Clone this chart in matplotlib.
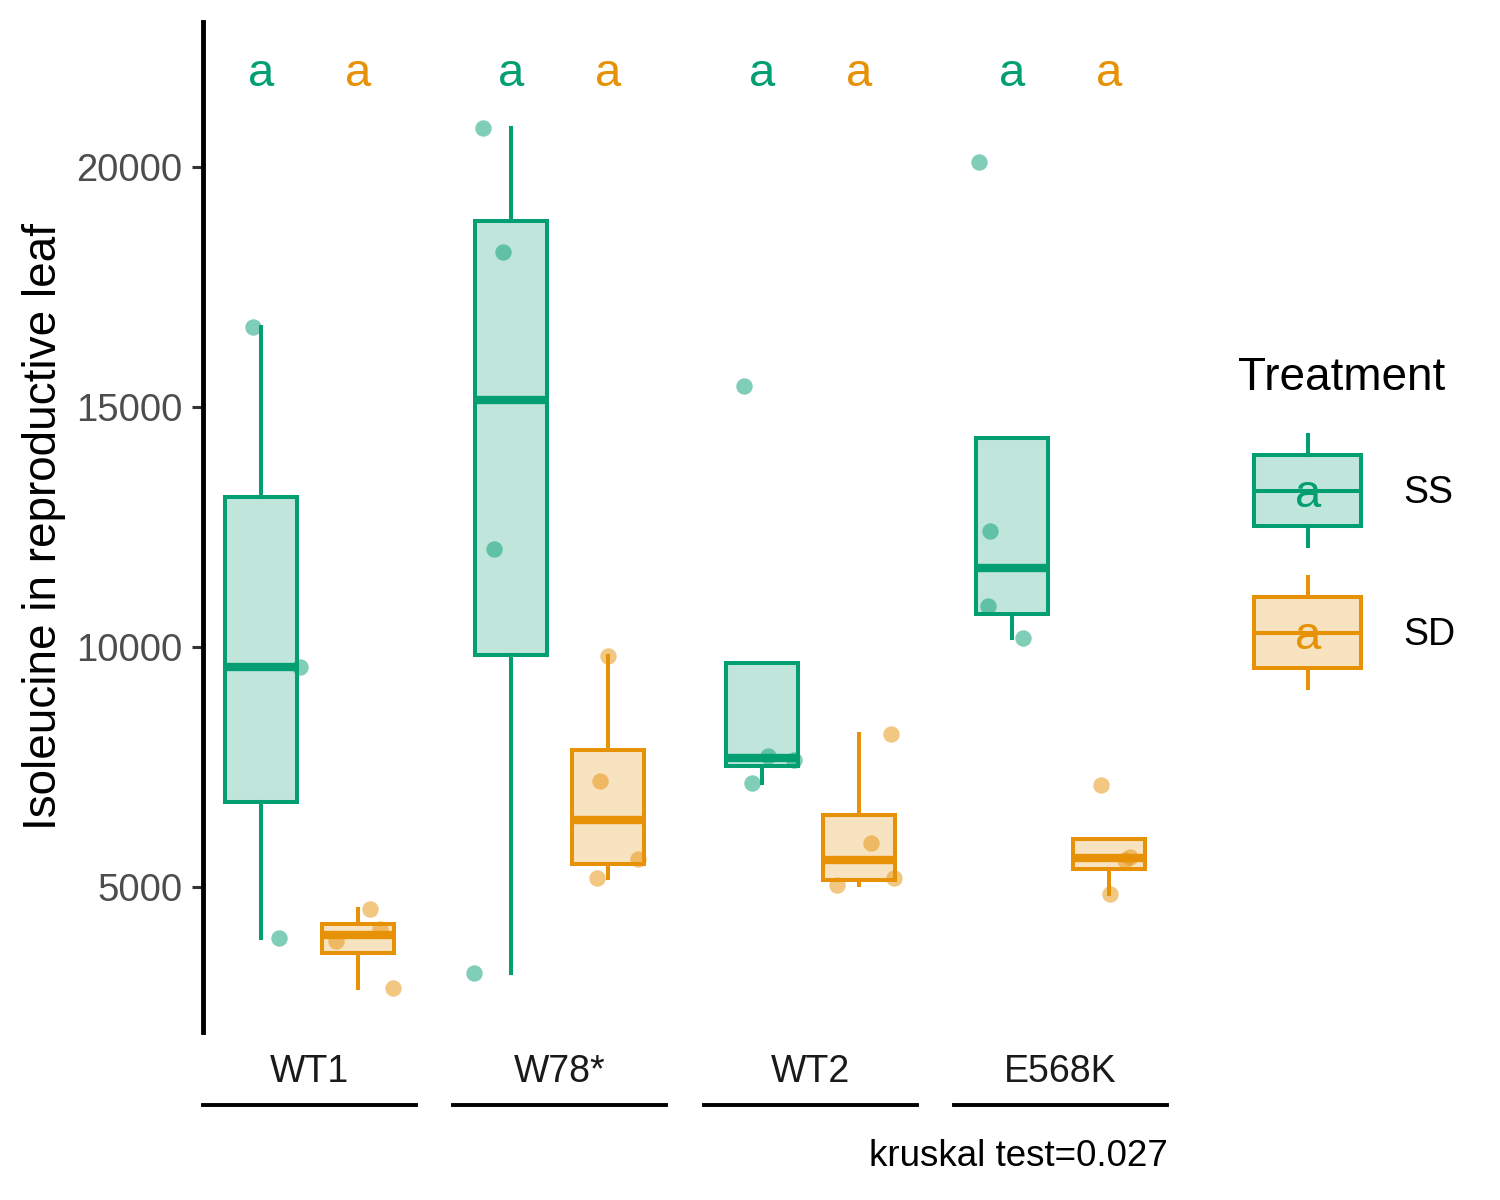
import matplotlib
matplotlib.use('Agg')
import matplotlib.pyplot as plt
from matplotlib.patches import Rectangle
from matplotlib.colors import to_rgba

plt.rcParams['font.family'] = ['Liberation Sans', 'DejaVu Sans']

# genotypes (one facet each) and treatments
genotypes = ['WT1', 'W78*', 'WT2', 'E568K']
treatments = ['SS', 'SD']
letters = ['a', 'a']

# isoleucine values, per genotype
ss_values = [[16667, 9590, 3948],
             [20812, 18229, 12042, 3219],
             [15444, 7735, 7646, 7173],
             [20110, 12423, 10854, 10194]]
sd_values = [[4542, 4125, 3875, 2896],
             [9812, 7208, 5577, 5194],
             [8194, 5923, 5194, 5042],
             [7131, 5631, 5563, 4854]]

# horizontal jitter of the points (x units), as seen in the picture
ss_jitter = [[-0.08, 0.40, 0.18],
             [-0.29, -0.08, -0.18, -0.38],
             [-0.19, 0.06, 0.33, -0.10],
             [-0.34, -0.23, -0.25, 0.11]]
sd_jitter = [[0.13, 0.23, -0.23, 0.36],
             [0.0, -0.08, 0.31, -0.11],
             [0.33, 0.13, 0.36, -0.23],
             [-0.08, 0.22, 0.17, 0.01]]

letter_y = 21690
yticks = [5000, 10000, 15000, 20000]
kruskal_p = 0.027

colors = {'SS': '#049E73', 'SD': '#E69106'}

W, H = 1500, 1200
fig = plt.figure(figsize=(15, 12), dpi=100)

panel_left = [203, 453, 704, 954]
panel_w = 213
panel_top, panel_bottom = 22, 1032
lw = 2.9

for i, g in enumerate(genotypes):
    ax = fig.add_axes([panel_left[i] / W, 1 - panel_bottom / H,
                       panel_w / W, (panel_bottom - panel_top) / H])
    for j, (tr, vals, jit) in enumerate(zip(treatments,
                                            [ss_values[i], sd_values[i]],
                                            [ss_jitter[i], sd_jitter[i]])):
        c = colors[tr]
        pos = j + 1
        ax.scatter([pos + d for d in jit], vals, s=140, color=c, alpha=0.5,
                   linewidths=0, zorder=2)
        ax.boxplot(vals, positions=[pos], widths=0.75, whis=1.5,
                   showfliers=False, showcaps=False, patch_artist=True,
                   boxprops=dict(facecolor=to_rgba(c, 0.25), edgecolor=c, linewidth=lw),
                   whiskerprops=dict(color=c, linewidth=lw),
                   medianprops=dict(color=c, linewidth=6, solid_capstyle='butt'),
                   zorder=3)
        ax.text(pos, letter_y, letters[j], color=c, fontsize=34,
                ha='center', va='baseline')

    ax.set_xlim(0.4, 2.6)
    ax.set_ylim(1980, 23020)
    ax.set_xticks([])
    ax.spines['top'].set_visible(False)
    ax.spines['right'].set_visible(False)
    ax.spines['bottom'].set_position(('outward', 52.5))
    ax.spines['bottom'].set_linewidth(2.8)
    ax.text(0.5, -0.0396, g, transform=ax.transAxes, ha='center', va='center',
            fontsize=27, color='#1A1A1A')
    if i == 0:
        ax.spines['left'].set_linewidth(3.5)
        ax.set_yticks(yticks)
        ax.set_yticklabels([str(t) for t in yticks])
        ax.tick_params(axis='y', length=8, width=2.2, color='#333333',
                       labelsize=27.5, labelcolor='#4D4D4D', pad=7)
        ax.set_ylabel('Isoleucine in reproductive leaf', fontsize=33, labelpad=7)
    else:
        ax.spines['left'].set_visible(False)
        ax.set_yticks([])

fig.text(1168 / W, 1 - 1157 / H, f'kruskal test={kruskal_p}', ha='right',
         va='center', fontsize=26.5)

# legend drawn in its own pixel-unit axes
lx0, lx1, ly0, ly1 = 1220, 1490, 330, 720
lax = fig.add_axes([lx0 / W, 1 - ly1 / H, (lx1 - lx0) / W, (ly1 - ly0) / H])
lax.set_xlim(lx0, lx1)
lax.set_ylim(ly1, ly0)
lax.axis('off')
lax.text(1238, 378, 'Treatment', fontsize=33, ha='left', va='center')
key_cx, key_w, key_h, whisk = 1308, 107, 71, 20
for k, tr in enumerate(treatments):
    c = colors[tr]
    cy = 491 + 142 * k
    lax.add_patch(Rectangle((key_cx - key_w / 2, cy - key_h / 2), key_w, key_h,
                            facecolor=to_rgba(c, 0.25), edgecolor=c, linewidth=lw))
    lax.plot([key_cx - key_w / 2, key_cx + key_w / 2], [cy, cy], color=c, lw=lw)
    lax.plot([key_cx, key_cx], [cy - key_h / 2 - whisk, cy - key_h / 2], color=c, lw=lw)
    lax.plot([key_cx, key_cx], [cy + key_h / 2, cy + key_h / 2 + whisk], color=c, lw=lw)
    lax.text(key_cx, cy + 4, letters[k], color=c, fontsize=34, ha='center', va='center')
    lax.text(1403, cy + 2, tr, fontsize=27, ha='left', va='center')

fig.savefig('out.png', dpi=100, facecolor='white')
